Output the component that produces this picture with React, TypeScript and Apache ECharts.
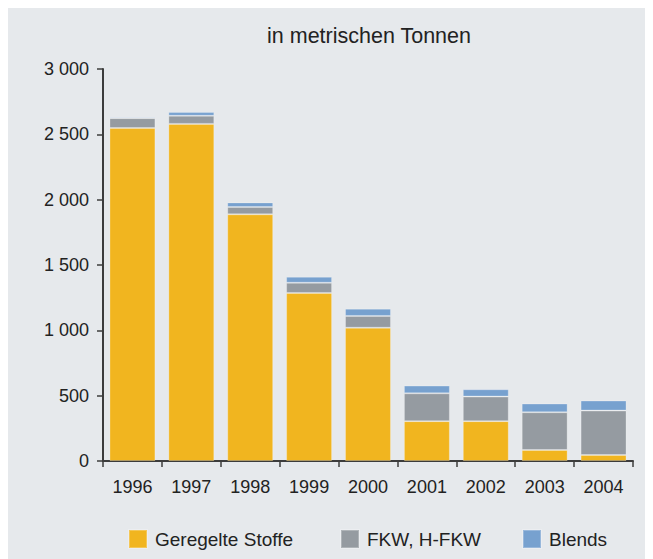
import React, { useEffect, useRef } from "react";
import * as echarts from "echarts";

const categories = ["1996", "1997", "1998", "1999", "2000", "2001", "2002", "2003", "2004"];
const geregelte = [2548, 2580, 1888, 1286, 1020, 305, 305, 84, 46];
const fkw = [76, 62, 56, 78, 90, 213, 188, 289, 340];
const blends = [9, 28, 35, 46, 56, 59, 56, 67, 77];
const seriesNames = ["Geregelte Stoffe", "FKW, H-FKW", "Blends"];
const colors = ["#f1b51f", "#959ba1", "#77a1cf"];
const titleText = "in metrischen Tonnen";

export default function App() {
  const ref = useRef<HTMLDivElement>(null);
  useEffect(() => {
    if (!ref.current) return;
    const chart = echarts.init(ref.current, null, { renderer: "svg" });
    const font = "Liberation Sans, Arial, Helvetica, sans-serif";
    const axisColor = "#3c3c3c";
    const data = [geregelte, fkw, blends];
    const legendLefts = [120, 332, 514];
    chart.setOption({
      animation: false,
      backgroundColor: "#e6e9ec",
      textStyle: { fontFamily: font },
      title: {
        text: titleText,
        left: 361,
        textAlign: "center",
        top: 17,
        padding: 0,
        textStyle: { fontSize: 21.5, fontWeight: "normal", color: "#222", fontFamily: font },
      },
      legend: seriesNames.map((n, i) => ({
        data: [n],
        left: legendLefts[i],
        top: 521,
        padding: 0,
        itemWidth: 18,
        itemHeight: 18,
        icon: "rect",
        textStyle: { fontSize: 19, color: "#222", fontFamily: font, padding: [0, 0, 0, 3] },
      })),
      grid: { left: 95, top: 61, width: 530, height: 392, containLabel: false },
      xAxis: {
        type: "category",
        data: categories,
        axisLine: { lineStyle: { color: axisColor, width: 2 } },
        axisTick: { show: true, length: 6, lineStyle: { color: axisColor, width: 1.5 } },
        axisLabel: { fontSize: 18, color: "#222", margin: 17, fontFamily: font },
      },
      yAxis: {
        type: "value",
        min: 0,
        max: 3000,
        interval: 500,
        splitLine: { show: false },
        axisLine: { show: true, lineStyle: { color: axisColor, width: 2 } },
        axisTick: { show: true, length: 6, lineStyle: { color: axisColor, width: 1.5 } },
        axisLabel: {
          fontSize: 18,
          color: "#222",
          margin: 14,
          fontFamily: font,
          formatter: (v: number) => String(v).replace(/\B(?=(\d{3})+(?!\d))/g, " "),
        },
      },
      series: seriesNames.map((n, i) => ({
        name: n,
        type: "bar",
        stack: "total",
        barWidth: "78%",
        data: data[i],
        itemStyle: { color: colors[i], borderColor: "rgba(255,255,255,0.25)", borderWidth: 1 },
      })),
    });
    return () => chart.dispose();
  }, []);
  return <div ref={ref} style={{ width: 645, height: 551 }} />;
}
